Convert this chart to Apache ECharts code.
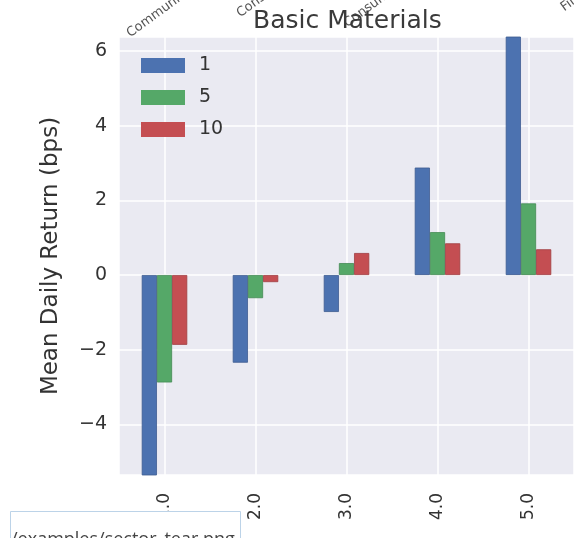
<!DOCTYPE html>
<html>
<head>
<meta charset="utf-8">
<script src="https://cdn.jsdelivr.net/npm/echarts@6/dist/echarts.min.js"></script>
<style>html,body{margin:0;padding:0;background:#fff;}#c{width:574px;height:538px;}</style>
</head>
<body>
<div id="c"></div>
<script>
// ---- data ----
var chartTitle = 'Basic Materials';
var quantiles = ['1.0', '2.0', '3.0', '4.0', '5.0'];
var periodNames = ['1', '5', '10'];
var ret1 = [-5.6, -2.35, -0.99, 2.88, 6.6];
var ret5 = [-2.88, -0.62, 0.32, 1.15, 1.92];
var ret10 = [-1.87, -0.19, 0.59, 0.85, 0.69];
var yName = 'Mean Daily Return (bps)';
var upperLabels = ['Communication Services', 'Consumer Cyclical', 'Consumer Defensive', 'Financial Services'];
var fileNote = '/examples/sector_tear.png';

var colors = ['#4C72B0', '#55A868', '#C44E52'];
var borders = ['#3d5c91', '#448a54', '#a03e42'];
var font = 'DejaVu Sans';

var chart = echarts.init(document.getElementById('c'), null, {renderer: 'canvas'});

function mkSeries(name, data, i) {
  return {
    name: name, type: 'bar', data: data, xAxisIndex: 0,
    barGap: '0%', barCategoryGap: '50%',
    itemStyle: {color: colors[i], borderColor: borders[i], borderWidth: 0.8},
    emphasis: {disabled: true}
  };
}

var upperPos = [[132, 40], [242, 20], [349, 30], [566, 14]];
var graphics = upperLabels.map(function (t, i) {
  return {
    type: 'text', x: upperPos[i][0], y: upperPos[i][1], rotation: 36 * Math.PI / 180,
    style: {text: t, fill: '#555', font: '13px "DejaVu Sans"', textAlign: 'left', textVerticalAlign: 'bottom'}
  };
});
graphics.push({
  type: 'rect', shape: {x: 10.5, y: 511.5, width: 230, height: 40},
  style: {fill: '#ffffff', stroke: '#bcd3e8', lineWidth: 1}, z: 10
});
graphics.push({
  type: 'text', x: 11, y: 540, z: 11,
  style: {text: fileNote, fill: '#444', font: '18px "Segoe UI", "Open Sans", sans-serif', textAlign: 'left', textVerticalAlign: 'middle'}
});

chart.setOption({
  animation: false,
  backgroundColor: '#ffffff',
  title: {
    text: chartTitle, left: 253, top: 9, padding: 0,
    textStyle: {fontFamily: font, fontSize: 25, fontWeight: 'normal', color: '#3a3a3a'}
  },
  grid: {
    left: 119, top: 37, width: 460, height: 438,
    show: true, backgroundColor: '#EAEAF2', borderWidth: 0
  },
  legend: {
    left: 136, top: 51, orient: 'vertical',
    itemWidth: 44, itemHeight: 15, itemGap: 13,
    icon: 'rect',
    itemStyle: {borderWidth: 0},
    textStyle: {fontFamily: font, fontSize: 19, color: '#333', padding: [0, 0, 0, 9]},
    data: periodNames
  },
  xAxis: [{
    type: 'category', data: quantiles,
    axisLine: {show: false}, axisTick: {show: false}, splitLine: {show: false},
    axisLabel: {rotate: 90, margin: 18, fontFamily: font, fontSize: 17, color: '#333'}
  }, {
    type: 'value', min: -0.5, max: 4.5, position: 'bottom',
    axisLine: {show: false}, axisTick: {show: false}, axisLabel: {show: false},
    splitLine: {show: true, lineStyle: {color: '#ffffff', width: 1.5}}
  }],
  yAxis: {
    type: 'value', min: -5.36, max: 6.38,
    name: yName, nameLocation: 'middle', nameGap: 56, nameRotate: 90,
    nameTextStyle: {fontFamily: font, fontSize: 23, color: '#333'},
    axisLine: {show: false}, axisTick: {show: false},
    axisLabel: {
      margin: 12, fontFamily: font, fontSize: 19, color: '#333',
      showMinLabel: false, showMaxLabel: false,
      formatter: function (v) {
        if (Math.abs(v - Math.round(v)) > 1e-6) return '';
        return String(v).replace('-', '\u2212');
      }
    },
    splitLine: {show: true, lineStyle: {color: '#ffffff', width: 1.5}}
  },
  series: [mkSeries(periodNames[0], ret1, 0), mkSeries(periodNames[1], ret5, 1), mkSeries(periodNames[2], ret10, 2)],
  graphic: graphics
});
</script>
</body>
</html>
